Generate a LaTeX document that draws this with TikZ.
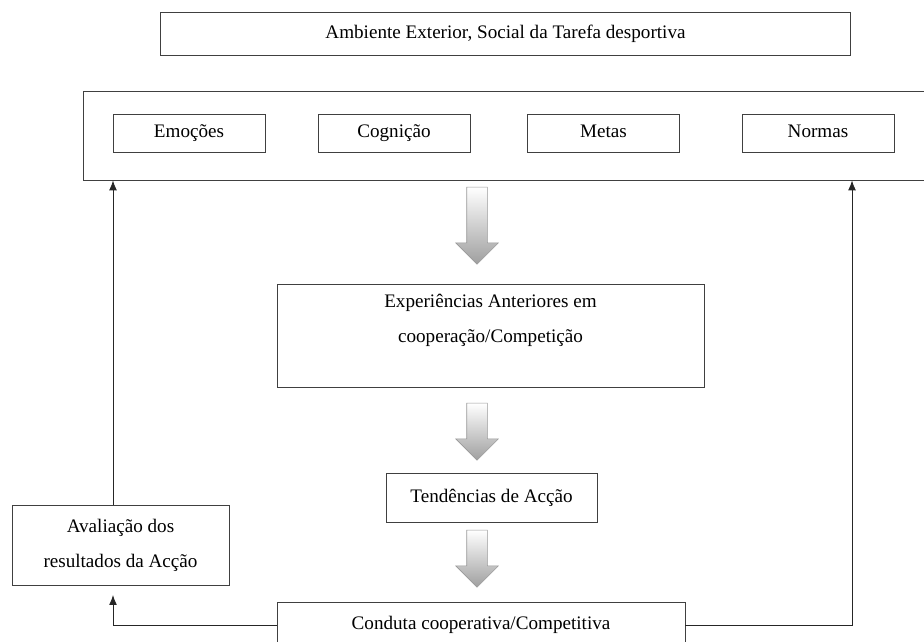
\documentclass[tikz,border=0pt]{standalone}
\usepackage{fontspec}
\setmainfont{Liberation Serif}
\usetikzlibrary{shapes.arrows,arrows.meta}

\begin{document}
\begin{tikzpicture}[>={Latex[length=7pt,width=5.5pt]}, x=0.025cm, y=-0.025cm,
  box/.style={draw=black!75, line width=0.6pt, inner sep=0pt, align=center,
    font=\fontsize{13.6}{25}\selectfont},
  factor/.style={box, minimum width=3.8cm, minimum height=0.95cm,
    text height=9.5pt, text depth=3pt},
  bigarrow/.style={single arrow, draw=gray!80, top color=white, bottom color=gray!75,
    shape border rotate=270, single arrow head extend=0.275cm,
    single arrow tip angle=90, inner sep=0.25cm},
  link/.style={->, draw=black!85, line width=0.6pt}]
\useasboundingbox (0,0) rectangle (924,642);
%environment
\node[box, minimum width=17.225cm, minimum height=1.075cm] (env) at (505.5,33.5)
     {Ambiente Exterior, Social da Tarefa desportiva};
%frame with the four factors
\node[box, minimum width=21.05cm, minimum height=2.225cm] (frame) at (505,135.5) {};
\foreach \name/\x/\txt in {emo/189/Emoções, cog/394/Cognição, met/603.5/Metas, nor/818/Normas}
{
  \node[factor] (\name) at (\x,133) {\txt};
}
%middle column
\node[box, minimum width=10.675cm, minimum height=2.575cm] (exp) at (490.5,335.5)
     {Experiências Anteriores em\\cooperação/Competição\\\mbox{}};
\node[box, minimum width=5.275cm, minimum height=1.225cm] (tend) at (491.5,497.5)
     {Tendências de Acção};
\node[box, minimum width=10.2cm, minimum height=1.15cm] (cond) at (481,625)
     {Conduta cooperativa/Competitiva};
%evaluation
\node[box, minimum width=5.425cm, minimum height=2cm] (aval) at (120.5,545)
     {Avaliação dos\\resultados da Acção};
%block arrows
\node[bigarrow, minimum height=1.925cm] (a1) at (477,220.5) {};
\node[bigarrow, minimum height=1.425cm] (a2) at (477,426.5) {};
\node[bigarrow, minimum height=1.425cm] (a3) at (477,553.5) {};
%feedback
\coordinate (lft) at (113,595);
\coordinate (rgt) at (852,595);
\draw[link] (cond.west) -| (lft);
\draw[link] (lft |- aval.north) -- (lft |- frame.south);
\draw[link] (cond.east) -| (rgt |- frame.south);
\end{tikzpicture}
\end{document}
